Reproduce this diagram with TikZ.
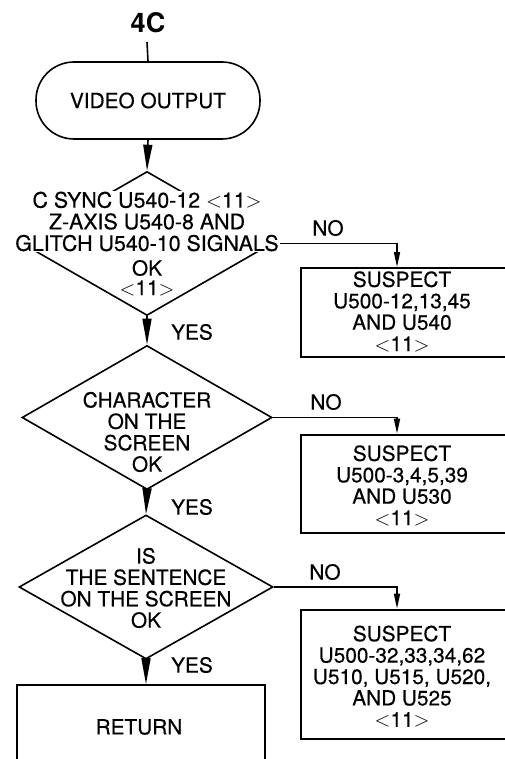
\documentclass[tikz,border=0pt]{standalone}
\usepackage{fontspec}
\setmainfont{TeX Gyre Heros}
\newfontfamily\txtfont[FakeBold=0.4]{TeX Gyre Heros}
\usetikzlibrary{shapes.geometric,arrows.meta}
\begin{document}
\begin{tikzpicture}[x=1pt,y=-1pt,
  txt/.style={font=\txtfont\fontsize{20.8}{21.4}\selectfont, align=center, inner sep=1pt},
  wtxt/.style={txt, fill=white},
  dia/.style={draw, diamond, line width=1.6pt, minimum width=250pt, minimum height=144pt, inner sep=0pt},
  sbox/.style={draw, rectangle, inner sep=0pt},
  main/.style={-{Triangle[length=26pt,width=9pt]}, line width=1.6pt},
  side/.style={-{Triangle[length=15pt,width=6pt]}, line width=1.6pt},
]
\useasboundingbox (0,0) rectangle (505,759);
\clip (0,0) rectangle (505,759);

% shapes
\node[font=\fontsize{27}{27}\selectfont\bfseries, inner sep=0pt] (t4c) at (148,23) {4C};
\coordinate (c4) at (147,42);
\node[draw, rounded corners=38pt, minimum width=224pt, minimum height=77pt, line width=1.6pt, txt] (vo) at (148,100.5) {VIDEO OUTPUT};
\node[dia] (d1) at (147,243.5) {};
\node[dia] (d2) at (147,417.5) {};
\node[dia, minimum width=254pt] (d3) at (146,587) {};
\node[sbox, line width=1.8pt, minimum width=212pt, minimum height=89pt] (b1) at (407,312.5) {};
\node[sbox, line width=2.6pt, minimum width=212pt, minimum height=98pt] (b2) at (407,484) {};
\node[sbox, line width=2.6pt, minimum width=212pt, minimum height=129pt] (b3) at (407,674.5) {};
\node[sbox, line width=1.6pt, minimum width=248pt, minimum height=115pt] (ret) at (141,742.5) {};

% connectors
\draw[line width=1.6pt] (c4) -- (vo.north);
\draw[main] (vo.south) -- (d1.north);
\draw[main] (d1.south) -- (d2.north);
\draw[main] (d2.south) -- (d3.north);
\draw[main] (d3.south) -- (d3.south |- ret.north);
\draw[side] (d1.east) -| ([xshift=-10pt]b1.north);
\draw[side] (d2.east) -| ([xshift=-10pt]b2.north);
\draw[side] (d3.east) -| ([xshift=-10pt]b3.north);

% labels
\node[txt] (no1) at (328,228) {NO};
\node[txt] (no2) at (326,402) {NO};
\node[txt] (no3) at (325,572) {NO};
\node[txt] (yes1) at (192,332) {YES};
\node[txt] (yes2) at (192,507) {YES};
\node[txt] (yes3) at (192,665) {YES};

% texts
\node[wtxt, font=\txtfont\fontsize{21.4}{21.6}\selectfont] (t1a) at (147,221.5) {C SYNC U540-12 $<$11$>$\\Z-AXIS U540-8 AND\\GLITCH U540-10 SIGNALS};
\node[wtxt] (t1b) at (147,268) {OK};
\node[wtxt] (t1c) at (147,288) {$<$11$>$};
\node[txt] (t2) at (147,432) {CHARACTER\\ON THE\\SCREEN\\OK};
\node[txt] (t3) at (146,588) {IS\\THE SENTENCE\\ON THE SCREEN\\OK};
\node[txt] (s1) at (402,311.5) {SUSPECT\\U500-12,13,45\\AND U540\\$<$11$>$};
\node[txt] (s2) at (402,485.5) {SUSPECT\\U500-3,4,5,39\\AND U530\\$<$11$>$};
\node[txt] (s3) at (402,676.5) {SUSPECT\\U500-32,33,34,62\\U510, U515, U520,\\AND U525\\$<$11$>$};
\node[txt] (rt) at (139,727) {RETURN};
\end{tikzpicture}
\end{document}
